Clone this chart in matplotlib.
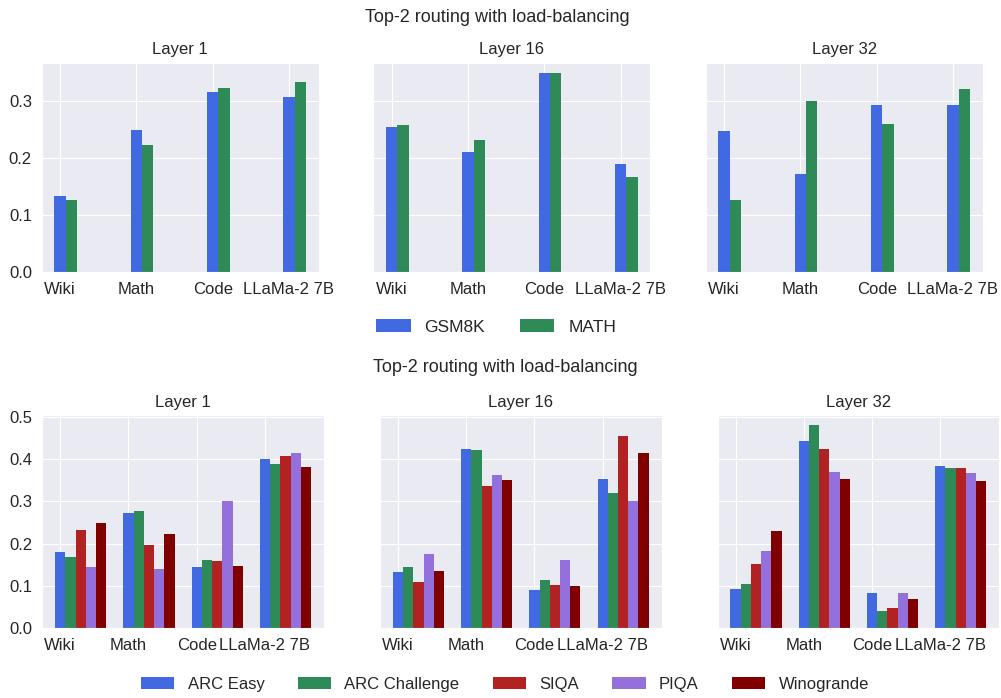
import matplotlib
matplotlib.use('Agg')
import matplotlib.pyplot as plt
import seaborn as sns
import numpy as np

sns.set_style('darkgrid')
plt.rcParams['font.family'] = ['Liberation Sans', 'DejaVu Sans']

# Data
categories = ['Wiki', 'Math', 'Code', 'LLaMa-2 7B']
layers = ['Layer 1', 'Layer 16', 'Layer 32']

# top row: GSM8K / MATH
top_series = ['GSM8K', 'MATH']
top_colors = ['royalblue', 'seagreen']
gsm8k = [[0.133, 0.249, 0.316, 0.306],
         [0.254, 0.211, 0.349, 0.189],
         [0.247, 0.171, 0.293, 0.293]]
math_ = [[0.127, 0.222, 0.323, 0.333],
         [0.257, 0.232, 0.348, 0.166],
         [0.127, 0.299, 0.259, 0.321]]

# bottom row: commonsense tasks
bot_series = ['ARC Easy', 'ARC Challenge', 'SIQA', 'PIQA', 'Winogrande']
bot_colors = ['royalblue', 'seagreen', 'firebrick', 'mediumpurple', 'maroon']
arc_easy = [[0.180, 0.273, 0.146, 0.400],
            [0.132, 0.424, 0.091, 0.353],
            [0.093, 0.443, 0.083, 0.384]]
arc_chal = [[0.169, 0.278, 0.162, 0.388],
            [0.146, 0.421, 0.115, 0.319],
            [0.104, 0.480, 0.041, 0.379]]
siqa = [[0.233, 0.198, 0.160, 0.406],
        [0.110, 0.337, 0.102, 0.454],
        [0.151, 0.424, 0.048, 0.379]]
piqa = [[0.146, 0.140, 0.301, 0.415],
        [0.175, 0.363, 0.162, 0.301],
        [0.182, 0.370, 0.083, 0.367]]
winogrande = [[0.249, 0.222, 0.148, 0.382],
              [0.135, 0.350, 0.100, 0.415],
              [0.231, 0.353, 0.070, 0.349]]

W, H = 1001, 698
fig = plt.figure(figsize=(W / 100, H / 100), dpi=100)

def px_axes(left, top, width, height):
    return fig.add_axes([left / W, (H - top - height) / H, width / W, height / H])

width = 0.15
x = np.arange(len(categories))

# top row
top_lefts = [41.7, 373.3, 705.7]
top_axes = []
for i, layer in enumerate(layers):
    ax = px_axes(top_lefts[i], 62.7, 277, 209.6)
    for j, vals in enumerate([gsm8k[i], math_[i]]):
        ax.bar(x + j * width, vals, width, color=top_colors[j], label=top_series[j], linewidth=0)
    ax.set_xticks(x)
    ax.set_xticklabels(categories, fontsize=12)
    ax.set_title(layer, fontsize=12)
    ax.tick_params(axis='y', labelsize=12)
    top_axes.append(ax)
ymax = max(top_axes[k].get_ylim()[1] for k in range(3))
for k, ax in enumerate(top_axes):
    ax.set_ylim(0, ymax)
    ax.set_yticks([0.0, 0.1, 0.2, 0.3])
    if k > 0:
        ax.set_yticklabels([])

fig.text(497 / W, 1 - 17 / H, 'Top-2 routing with load-balancing', ha='center', va='center', fontsize=13)
h, l = top_axes[0].get_legend_handles_labels()
fig.legend(h, l, loc='center', bbox_to_anchor=(496 / W, 1 - 327 / H), ncol=2,
           frameon=False, fontsize=12.5)

# bottom row
bot_lefts = [42.3, 380, 717.7]
bot_axes = []
for i, layer in enumerate(layers):
    ax = px_axes(bot_lefts[i], 415, 281.5, 213.3)
    for j, vals in enumerate([arc_easy[i], arc_chal[i], siqa[i], piqa[i], winogrande[i]]):
        ax.bar(x + j * width, vals, width, color=bot_colors[j], label=bot_series[j], linewidth=0)
    ax.set_xticks(x)
    ax.set_xticklabels(categories, fontsize=12)
    ax.set_title(layer, fontsize=12)
    ax.tick_params(axis='y', labelsize=12)
    bot_axes.append(ax)
ymax = max(bot_axes[k].get_ylim()[1] for k in range(3))
for k, ax in enumerate(bot_axes):
    ax.set_ylim(0, ymax)
    ax.set_yticks([0.0, 0.1, 0.2, 0.3, 0.4, 0.5])
    if k > 0:
        ax.set_yticklabels([])

fig.text(505 / W, 1 - 368 / H, 'Top-2 routing with load-balancing', ha='center', va='center', fontsize=13)
h, l = bot_axes[0].get_legend_handles_labels()
fig.legend(h, l, loc='center', bbox_to_anchor=(505 / W, 1 - 684 / H), ncol=5,
           frameon=False, fontsize=12)

fig.savefig('out.png', dpi=100)
